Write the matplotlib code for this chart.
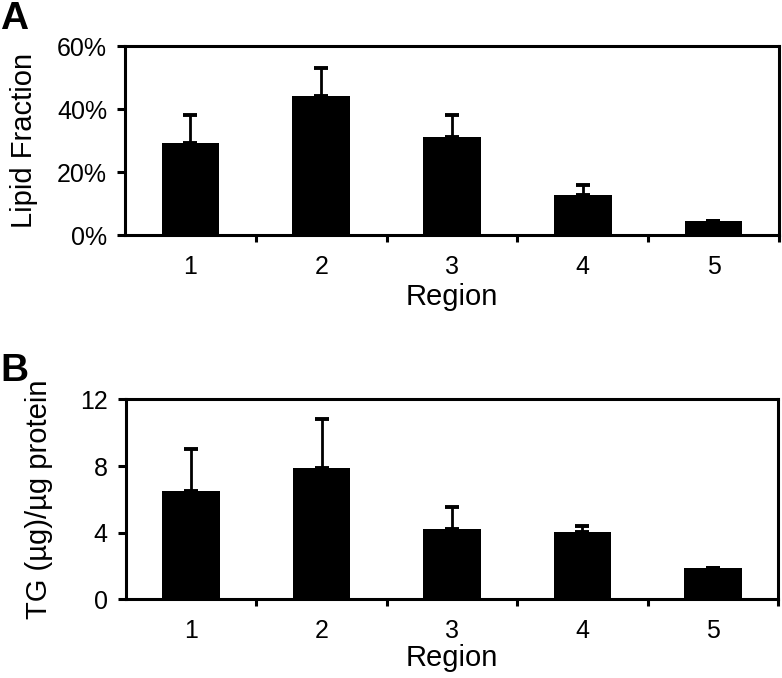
import matplotlib
matplotlib.use("Agg")
import matplotlib.pyplot as plt
from matplotlib.ticker import FuncFormatter

plt.rcParams['font.family'] = ['Liberation Sans', 'DejaVu Sans']

regions = [1, 2, 3, 4, 5]
lipid_frac = [29.3, 44.2, 31.2, 12.7, 4.6]
lipid_err = [8.8, 8.9, 6.8, 3.4, 0.0]
tg = [6.52, 7.86, 4.2, 4.04, 1.88]
tg_err = [2.48, 2.98, 1.32, 0.34, 0.0]

fig = plt.figure(figsize=(7.82, 6.78), dpi=100)
axA = fig.add_axes([0.160, 0.653, 0.836, 0.279])
axB = fig.add_axes([0.161, 0.116, 0.834, 0.295])

def style(ax, vals, errs, ymax, yticks):
    ax.bar(regions, vals, width=0.44, color='black', zorder=2)
    ax.errorbar(regions, vals, yerr=[[0] * len(errs), errs], fmt='none',
                ecolor='black', elinewidth=2.0, capsize=4.8, capthick=2.8, zorder=1)
    ax.set_xlim(0.5, 5.5)
    ax.set_ylim(0, ymax)
    ax.set_yticks(yticks)
    ax.set_xticks([1.5, 2.5, 3.5, 4.5, 5.5])
    ax.set_xticks(regions, minor=True)
    ax.set_xticklabels([])
    ax.set_xticklabels([str(r) for r in regions], minor=True)
    ax.tick_params(axis='x', which='major', direction='out', length=5, width=2.2)
    ax.tick_params(axis='x', which='minor', length=0, pad=14, labelsize=18)
    ax.tick_params(axis='y', direction='out', length=6, width=2.2, pad=7, labelsize=18)
    for s in ax.spines.values():
        s.set_linewidth(2.2)

style(axA, lipid_frac, lipid_err, 60, [0, 20, 40, 60])
axA.yaxis.set_major_formatter(FuncFormatter(lambda v, p: f'{v:.0f}%'))
axA.set_ylabel('Lipid Fraction', fontsize=21)
axA.yaxis.set_label_coords(-0.133, 0.5)
axA.set_xlabel('Region', fontsize=21, labelpad=3)

style(axB, tg, tg_err, 12, [0, 4, 8, 12])
axB.set_ylabel('TG (µg)/µg protein', fontsize=21)
axB.yaxis.set_label_coords(-0.112, 0.5)
axB.set_xlabel('Region', fontsize=21, labelpad=1)

fig.text(0.0, 0.999, 'A', fontsize=28, fontweight='bold', va='top', ha='left')
fig.text(0.0, 0.479, 'B', fontsize=28, fontweight='bold', va='top', ha='left')

fig.savefig('out.png', dpi=100)
